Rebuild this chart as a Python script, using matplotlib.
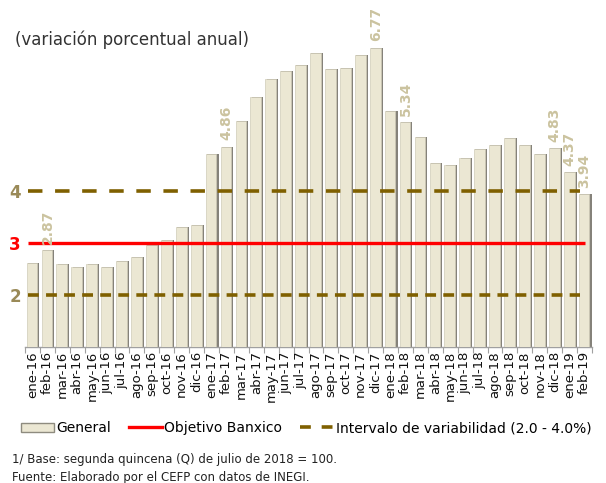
import matplotlib
matplotlib.use("Agg")
import matplotlib.pyplot as plt
import numpy as np
from matplotlib.lines import Line2D
from matplotlib.patches import Patch

categories = ["ene-16", "feb-16", "mar-16", "abr-16", "may-16", "jun-16", "jul-16", "ago-16",
              "sep-16", "oct-16", "nov-16", "dic-16",
              "ene-17", "feb-17", "mar-17", "abr-17", "may-17", "jun-17", "jul-17", "ago-17",
              "sep-17", "oct-17", "nov-17", "dic-17",
              "ene-18", "feb-18", "mar-18", "abr-18", "may-18", "jun-18", "jul-18", "ago-18",
              "sep-18", "oct-18", "nov-18", "dic-18",
              "ene-19", "feb-19"]
general = [2.61, 2.87, 2.60, 2.54, 2.60, 2.54, 2.65, 2.73, 2.97, 3.06, 3.31, 3.36,
           4.72, 4.86, 5.35, 5.82, 6.16, 6.31, 6.44, 6.66, 6.35, 6.37, 6.63, 6.77,
           5.55, 5.34, 5.04, 4.55, 4.51, 4.65, 4.81, 4.90, 5.02, 4.90, 4.72, 4.83,
           4.37, 3.94]
labeled = ["feb-16", "feb-17", "dic-17", "feb-18", "dic-18", "ene-19", "feb-19"]
objetivo = 3.0
intervalo_sup = 4.0
intervalo_inf = 2.0
yticks = [2, 3, 4]

fig = plt.figure(figsize=(6.06, 4.83), dpi=100)
ax = fig.add_axes([25/606, 1 - 347/483, (592 - 25)/606, (347 - 20)/483])

x = np.arange(len(categories))
ax.bar(x + 0.08, general, width=0.78, bottom=0, color="#85827a", zorder=2)
ax.bar(x - 0.03, general, width=0.72, bottom=0, color="#ebe7d3", edgecolor="#d0ccb8",
       linewidth=0.5, zorder=3)

ax.hlines(objetivo, -0.3, 37.0, color="#ff0000", linewidth=2.4, zorder=5)
ax.hlines(intervalo_sup, -0.3, 36.7, color="#7f6000", linewidth=2.6, linestyles=(0, (4, 3.5)), zorder=5)
ax.hlines(intervalo_inf, -0.3, 36.7, color="#7f6000", linewidth=2.6, linestyles=(0, (3, 2)), zorder=5)

for i, (c, v) in enumerate(zip(categories, general)):
    if c in labeled:
        ax.text(i, v + 0.12, f"{v:.2f}", rotation=90, ha="center", va="bottom",
                fontsize=10, color="#cbc39f", fontweight="bold", zorder=6)

ax.set_xlim(-0.5, len(categories) - 0.5)
ax.set_ylim(1, 7.3)
ax.set_xticks(x)
ax.set_xticklabels(categories, rotation=90, fontsize=9.5, color="#111111")
ax.tick_params(axis="x", which="major", length=0, pad=3)
ax.set_xticks(np.arange(-0.5, len(categories), 1), minor=True)
ax.tick_params(axis="x", which="minor", length=4, color="#a0a0a0", width=0.8)

ax.set_yticks(yticks)
ax.set_yticklabels([str(t) for t in yticks], fontsize=12, fontweight="bold")
ytick_colors = {2: "#9a8a58", 3: "#ff0000", 4: "#9a8a58"}
for lbl, t in zip(ax.get_yticklabels(), yticks):
    lbl.set_color(ytick_colors[t])
ax.tick_params(axis="y", length=0, pad=3)

for s in ["top", "right", "left"]:
    ax.spines[s].set_visible(False)
ax.spines["bottom"].set_color("#a0a0a0")
ax.spines["bottom"].set_linewidth(1.0)

fig.text(15/606, 1 - 40/483, "(variación porcentual anual)", fontsize=12, color="#333333",
         va="center", ha="left")

handles = [Patch(facecolor="#ebe7d3", edgecolor="#8e8b7f", linewidth=1.0),
           Line2D([0], [0], color="#ff0000", linewidth=2.4),
           Line2D([0], [0], color="#7f6000", linewidth=2.6, linestyle=(0, (3, 3)))]
labels = ["General", "Objetivo Banxico", "Intervalo de variabilidad (2.0 - 4.0%)"]
fig.legend(handles, labels, loc="center", bbox_to_anchor=(0.505, 1 - 428/483), ncol=3,
           frameon=False, fontsize=10, handlelength=2.4, handletextpad=0.15,
           columnspacing=1.3, handleheight=0.6)

fig.text(12/606, 1 - 460/483, "1/ Base: segunda quincena (Q) de julio de 2018 = 100.",
         fontsize=8.5, color="#222222", va="center", ha="left")
fig.text(12/606, 1 - 477/483, "Fuente: Elaborado por el CEFP con datos de INEGI.",
         fontsize=8.5, color="#222222", va="center", ha="left")

fig.savefig("out.png", dpi=100)
